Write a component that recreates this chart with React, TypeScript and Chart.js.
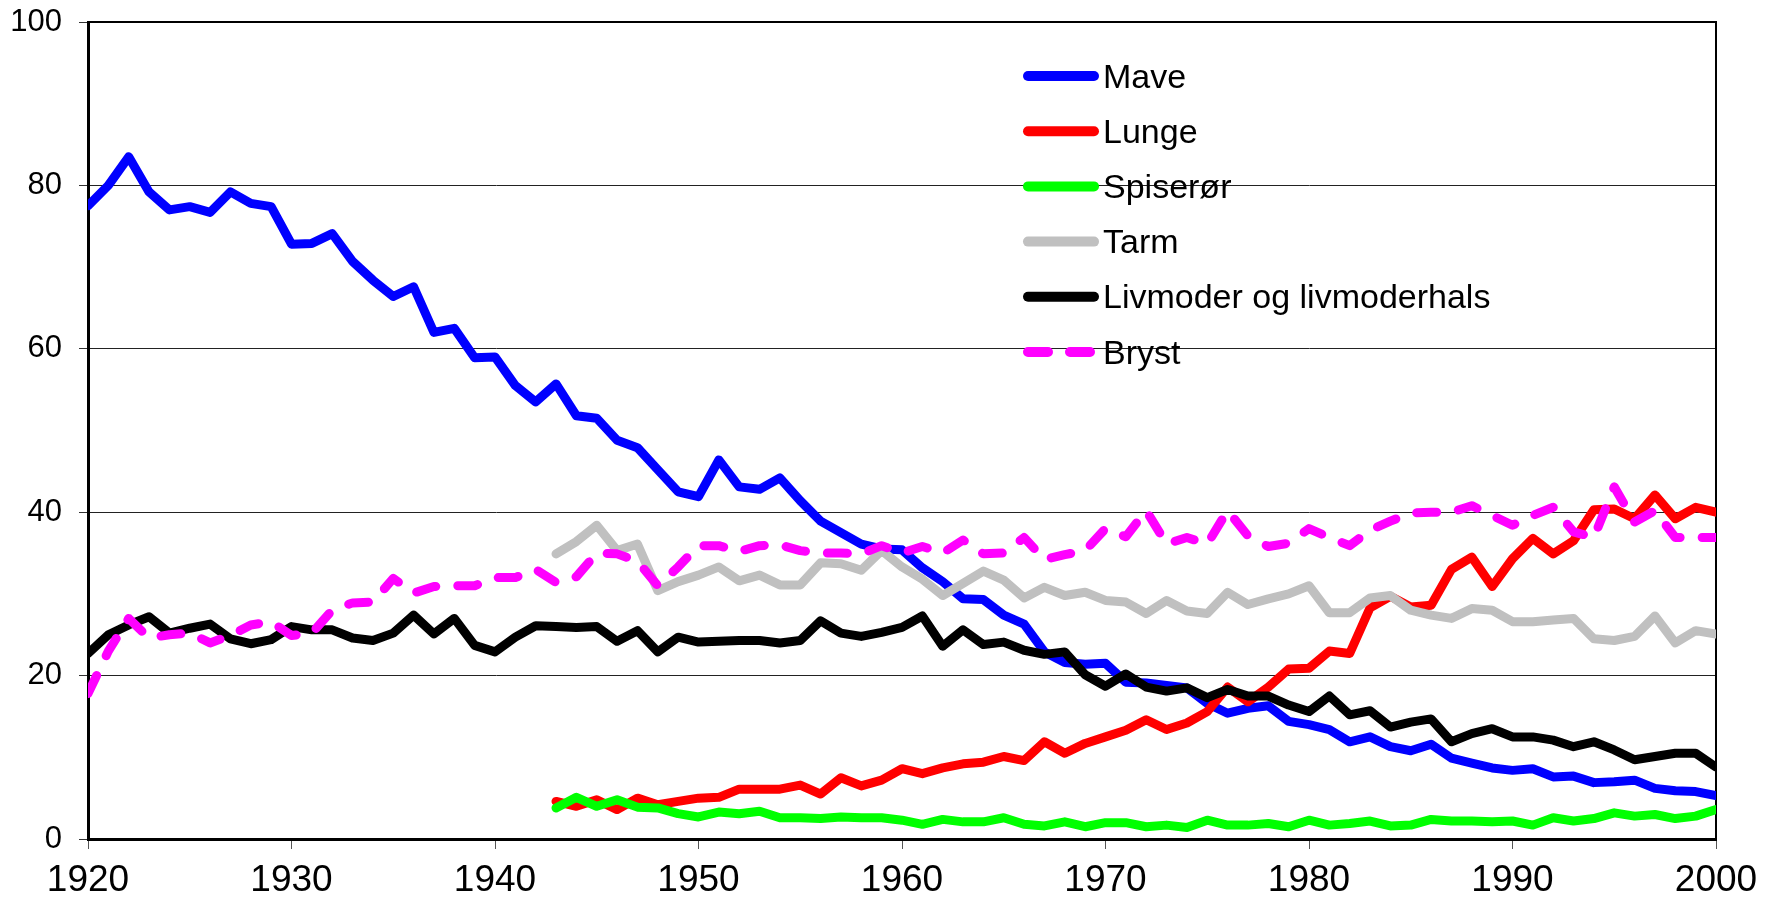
import React, { useEffect, useRef } from "react";
import { Chart, registerables } from "chart.js";

Chart.register(...registerables);

const FONT = "'Liberation Sans', Arial, sans-serif";

const startFull = 1920;
const startLate = 1943;

const xTicks = [1920, 1930, 1940, 1950, 1960, 1970, 1980, 1990, 2000];
const yTicks = [0, 20, 40, 60, 80, 100];

const labels = ["Mave", "Lunge", "Spiserør", "Tarm", "Livmoder og livmoderhals", "Bryst"];
const colors = ["#0000FF", "#FF0000", "#00FF00", "#C0C0C0", "#000000", "#FF00FF"];

// 1920-2000
const mave = [
  77.5, 80.0, 83.5, 79.2, 77.0, 77.4, 76.7, 79.2, 77.8, 77.4,
  72.8, 72.9, 74.1, 70.7, 68.4, 66.4, 67.6, 62.0, 62.5, 58.9,
  59.0, 55.5, 53.5, 55.7, 51.8, 51.5, 48.8, 47.9, 45.2, 42.5,
  41.9, 46.4, 43.1, 42.8, 44.2, 41.4, 38.9, 37.5, 36.1, 35.5,
  35.4, 33.2, 31.5, 29.4, 29.3, 27.4, 26.3, 22.9, 21.6, 21.4,
  21.5, 19.2, 19.1, 18.8, 18.5, 16.6, 15.4, 16.0, 16.3, 14.4,
  14.0, 13.4, 11.9, 12.5, 11.3, 10.8, 11.6, 9.9, 9.3, 8.7,
  8.4, 8.6, 7.6, 7.7, 6.9, 7.0, 7.2, 6.2, 5.9, 5.8,
  5.3,
];

// 1943-2000
const lunge = [
  4.6, 4.0, 4.8, 3.6, 5.0, 4.2, 4.6,
  5.0, 5.1, 6.1, 6.1, 6.1, 6.6, 5.5, 7.5, 6.5, 7.2,
  8.6, 8.0, 8.7, 9.2, 9.4, 10.1, 9.6, 11.9, 10.5, 11.7,
  12.5, 13.3, 14.6, 13.4, 14.2, 15.6, 18.6, 16.8, 18.6, 20.8,
  20.9, 23.0, 22.7, 28.3, 29.7, 28.4, 28.6, 33.0, 34.5, 30.9,
  34.3, 36.8, 34.9, 36.5, 40.3, 40.4, 39.2, 42.1, 39.2, 40.6,
  40.0,
];

// 1943-2000
const spiseror = [
  3.8, 5.1, 4.0, 4.8, 3.9, 3.8, 3.1,
  2.7, 3.3, 3.1, 3.4, 2.6, 2.6, 2.5, 2.7, 2.6, 2.6,
  2.3, 1.8, 2.4, 2.1, 2.1, 2.6, 1.8, 1.6, 2.1, 1.5,
  2.0, 2.0, 1.5, 1.7, 1.4, 2.3, 1.7, 1.7, 1.9, 1.5,
  2.3, 1.7, 1.9, 2.2, 1.6, 1.7, 2.4, 2.2, 2.2, 2.1,
  2.2, 1.7, 2.6, 2.2, 2.5, 3.2, 2.8, 3.0, 2.5, 2.8,
  3.6,
];

// 1943-2000
const tarm = [
  34.9, 36.4, 38.4, 35.3, 36.1, 30.4, 31.5,
  32.3, 33.3, 31.6, 32.3, 31.1, 31.1, 33.8, 33.7, 32.9, 35.3,
  33.3, 31.8, 29.8, 31.3, 32.8, 31.7, 29.5, 30.8, 29.8, 30.2,
  29.2, 29.0, 27.6, 29.2, 27.9, 27.6, 30.2, 28.7, 29.4, 30.0,
  31.0, 27.7, 27.7, 29.5, 29.8, 28.0, 27.4, 27.0, 28.2, 28.0,
  26.6, 26.6, 26.8, 27.0, 24.5, 24.3, 24.8, 27.3, 24.0, 25.5,
  25.1,
];

// 1920-2000
const livmoder = [
  22.7, 25.0, 26.2, 27.2, 25.2, 25.8, 26.3, 24.5, 23.9, 24.4,
  26.0, 25.6, 25.6, 24.6, 24.3, 25.2, 27.4, 25.1, 27.0, 23.7,
  22.9, 24.7, 26.1, 26.0, 25.9, 26.0, 24.2, 25.5, 22.9, 24.7,
  24.1, 24.2, 24.3, 24.3, 24.0, 24.3, 26.7, 25.2, 24.8, 25.3,
  25.9, 27.3, 23.6, 25.6, 23.8, 24.1, 23.1, 22.6, 22.9, 20.1,
  18.7, 20.2, 18.6, 18.1, 18.5, 17.3, 18.3, 17.5, 17.5, 16.4,
  15.6, 17.5, 15.2, 15.7, 13.7, 14.3, 14.7, 11.9, 12.9, 13.5,
  12.5, 12.5, 12.1, 11.3, 11.9, 10.9, 9.7, 10.1, 10.5, 10.5,
  8.8,
];

// 1920-2000
const bryst = [
  17.8, 23.0, 27.0, 24.6, 25.0, 25.2, 24.0, 24.9, 26.2, 26.6,
  24.9, 25.2, 28.0, 28.9, 29.0, 31.9, 30.1, 30.9, 31.0, 31.0,
  32.0, 32.0, 33.0, 31.4, 32.1, 35.0, 34.9, 34.0, 31.0, 33.3,
  35.9, 35.9, 35.2, 35.9, 36.0, 35.3, 35.0, 35.0, 34.9, 35.9,
  35.0, 35.8, 35.0, 36.6, 34.9, 35.0, 36.9, 34.2, 34.8, 35.3,
  38.0, 37.0, 40.2, 36.1, 36.9, 36.1, 40.2, 37.1, 35.8, 36.2,
  38.0, 36.9, 35.9, 37.8, 38.9, 39.9, 40.0, 40.0, 40.8, 39.6,
  38.4, 39.6, 40.6, 37.6, 36.9, 43.1, 38.8, 40.2, 36.9, 36.9,
  36.9,
];

const seriesValues = [mave, lunge, spiseror, tarm, livmoder, bryst];
const seriesStart = [startFull, startLate, startLate, startLate, startFull, startFull];

const toPoints = (vals: number[], start: number) => vals.map((v, i) => ({ x: start + i, y: v }));

const frameAndLegend = {
  id: "frameAndLegend",
  beforeDatasetsDraw(chart: any) {
    const { ctx, chartArea } = chart;
    ctx.save();
    ctx.strokeStyle = "#000";
    ctx.lineWidth = 2;
    ctx.beginPath();
    ctx.moveTo(chartArea.left, chartArea.top);
    ctx.lineTo(chartArea.right, chartArea.top);
    ctx.lineTo(chartArea.right, chartArea.bottom);
    ctx.stroke();
    ctx.restore();
  },
  afterDatasetsDraw(chart: any) {
    const { ctx } = chart;
    const ds = chart.data.datasets;
    const x0 = 1028;
    const x1 = 1094;
    const textX = 1103;
    const firstY = 76;
    const rowH = 55.2;
    ctx.save();
    ctx.font = `34px ${FONT}`;
    ctx.textAlign = "left";
    ctx.textBaseline = "alphabetic";
    ds.forEach((d: any, i: number) => {
      const y = firstY + i * rowH;
      ctx.beginPath();
      ctx.strokeStyle = d.borderColor;
      ctx.lineWidth = 10;
      ctx.lineCap = "round";
      ctx.setLineDash(d.borderDash || []);
      ctx.moveTo(x0, y);
      ctx.lineTo(x1, y);
      ctx.stroke();
      ctx.setLineDash([]);
      ctx.fillStyle = "#000";
      ctx.fillText(d.label, textX, y + 11.5);
    });
    ctx.restore();
  },
};

export default function App() {
  const ref = useRef<HTMLCanvasElement | null>(null);

  useEffect(() => {
    if (!ref.current) return;
    const datasets = labels.map((label, i) => ({
      label,
      data: toPoints(seriesValues[i], seriesStart[i]),
      borderColor: colors[i],
      backgroundColor: colors[i],
      borderWidth: 9,
      borderCapStyle: "round" as const,
      borderJoinStyle: "round" as const,
      borderDash: label === "Bryst" ? [20, 22] : [],
      pointRadius: 0,
      pointHoverRadius: 0,
      tension: 0,
      fill: false,
      order: labels.length - i,
    }));

    const chart = new Chart(ref.current, {
      type: "line",
      data: { datasets },
      plugins: [frameAndLegend],
      options: {
        responsive: false,
        animation: false,
        devicePixelRatio: 1,
        layout: { padding: { left: 0, top: 22, right: 59, bottom: 0 } },
        plugins: {
          legend: { display: false },
          tooltip: { enabled: false },
          title: { display: false },
        },
        scales: {
          x: {
            type: "linear",
            min: xTicks[0],
            max: xTicks[xTicks.length - 1],
            afterBuildTicks: (s: any) => {
              s.ticks = xTicks.map((v) => ({ value: v }));
            },
            afterFit: (s: any) => {
              s.height = 61;
            },
            ticks: {
              color: "#000",
              padding: 10,
              maxRotation: 0,
              autoSkip: false,
              font: { family: FONT, size: 37 },
              callback: (v: any) => String(v),
            },
            grid: {
              drawOnChartArea: false,
              drawTicks: true,
              tickLength: 10,
              tickColor: "#555",
              tickWidth: 1,
            },
            border: { display: true, color: "#000", width: 3 },
          },
          y: {
            type: "linear",
            min: yTicks[0],
            max: yTicks[yTicks.length - 1],
            afterBuildTicks: (s: any) => {
              s.ticks = yTicks.map((v) => ({ value: v }));
            },
            afterFit: (s: any) => {
              s.width = 88;
              s.paddingTop = 0;
              s.paddingBottom = 0;
            },
            ticks: {
              color: "#000",
              padding: 17,
              font: { family: FONT, size: 31 },
              callback: (v: any) => String(v),
            },
            grid: {
              color: "#222",
              lineWidth: 1,
              drawTicks: true,
              tickLength: 9,
              tickColor: "#333",
            },
            border: { display: true, color: "#000", width: 3 },
          },
        },
      },
    });
    return () => chart.destroy();
  }, []);

  return (
    <div style={{ position: "absolute", left: 0, top: 0, width: 1775, height: 900, background: "#fff" }}>
      <canvas ref={ref} width={1775} height={900} style={{ display: "block" }} />
    </div>
  );
}
